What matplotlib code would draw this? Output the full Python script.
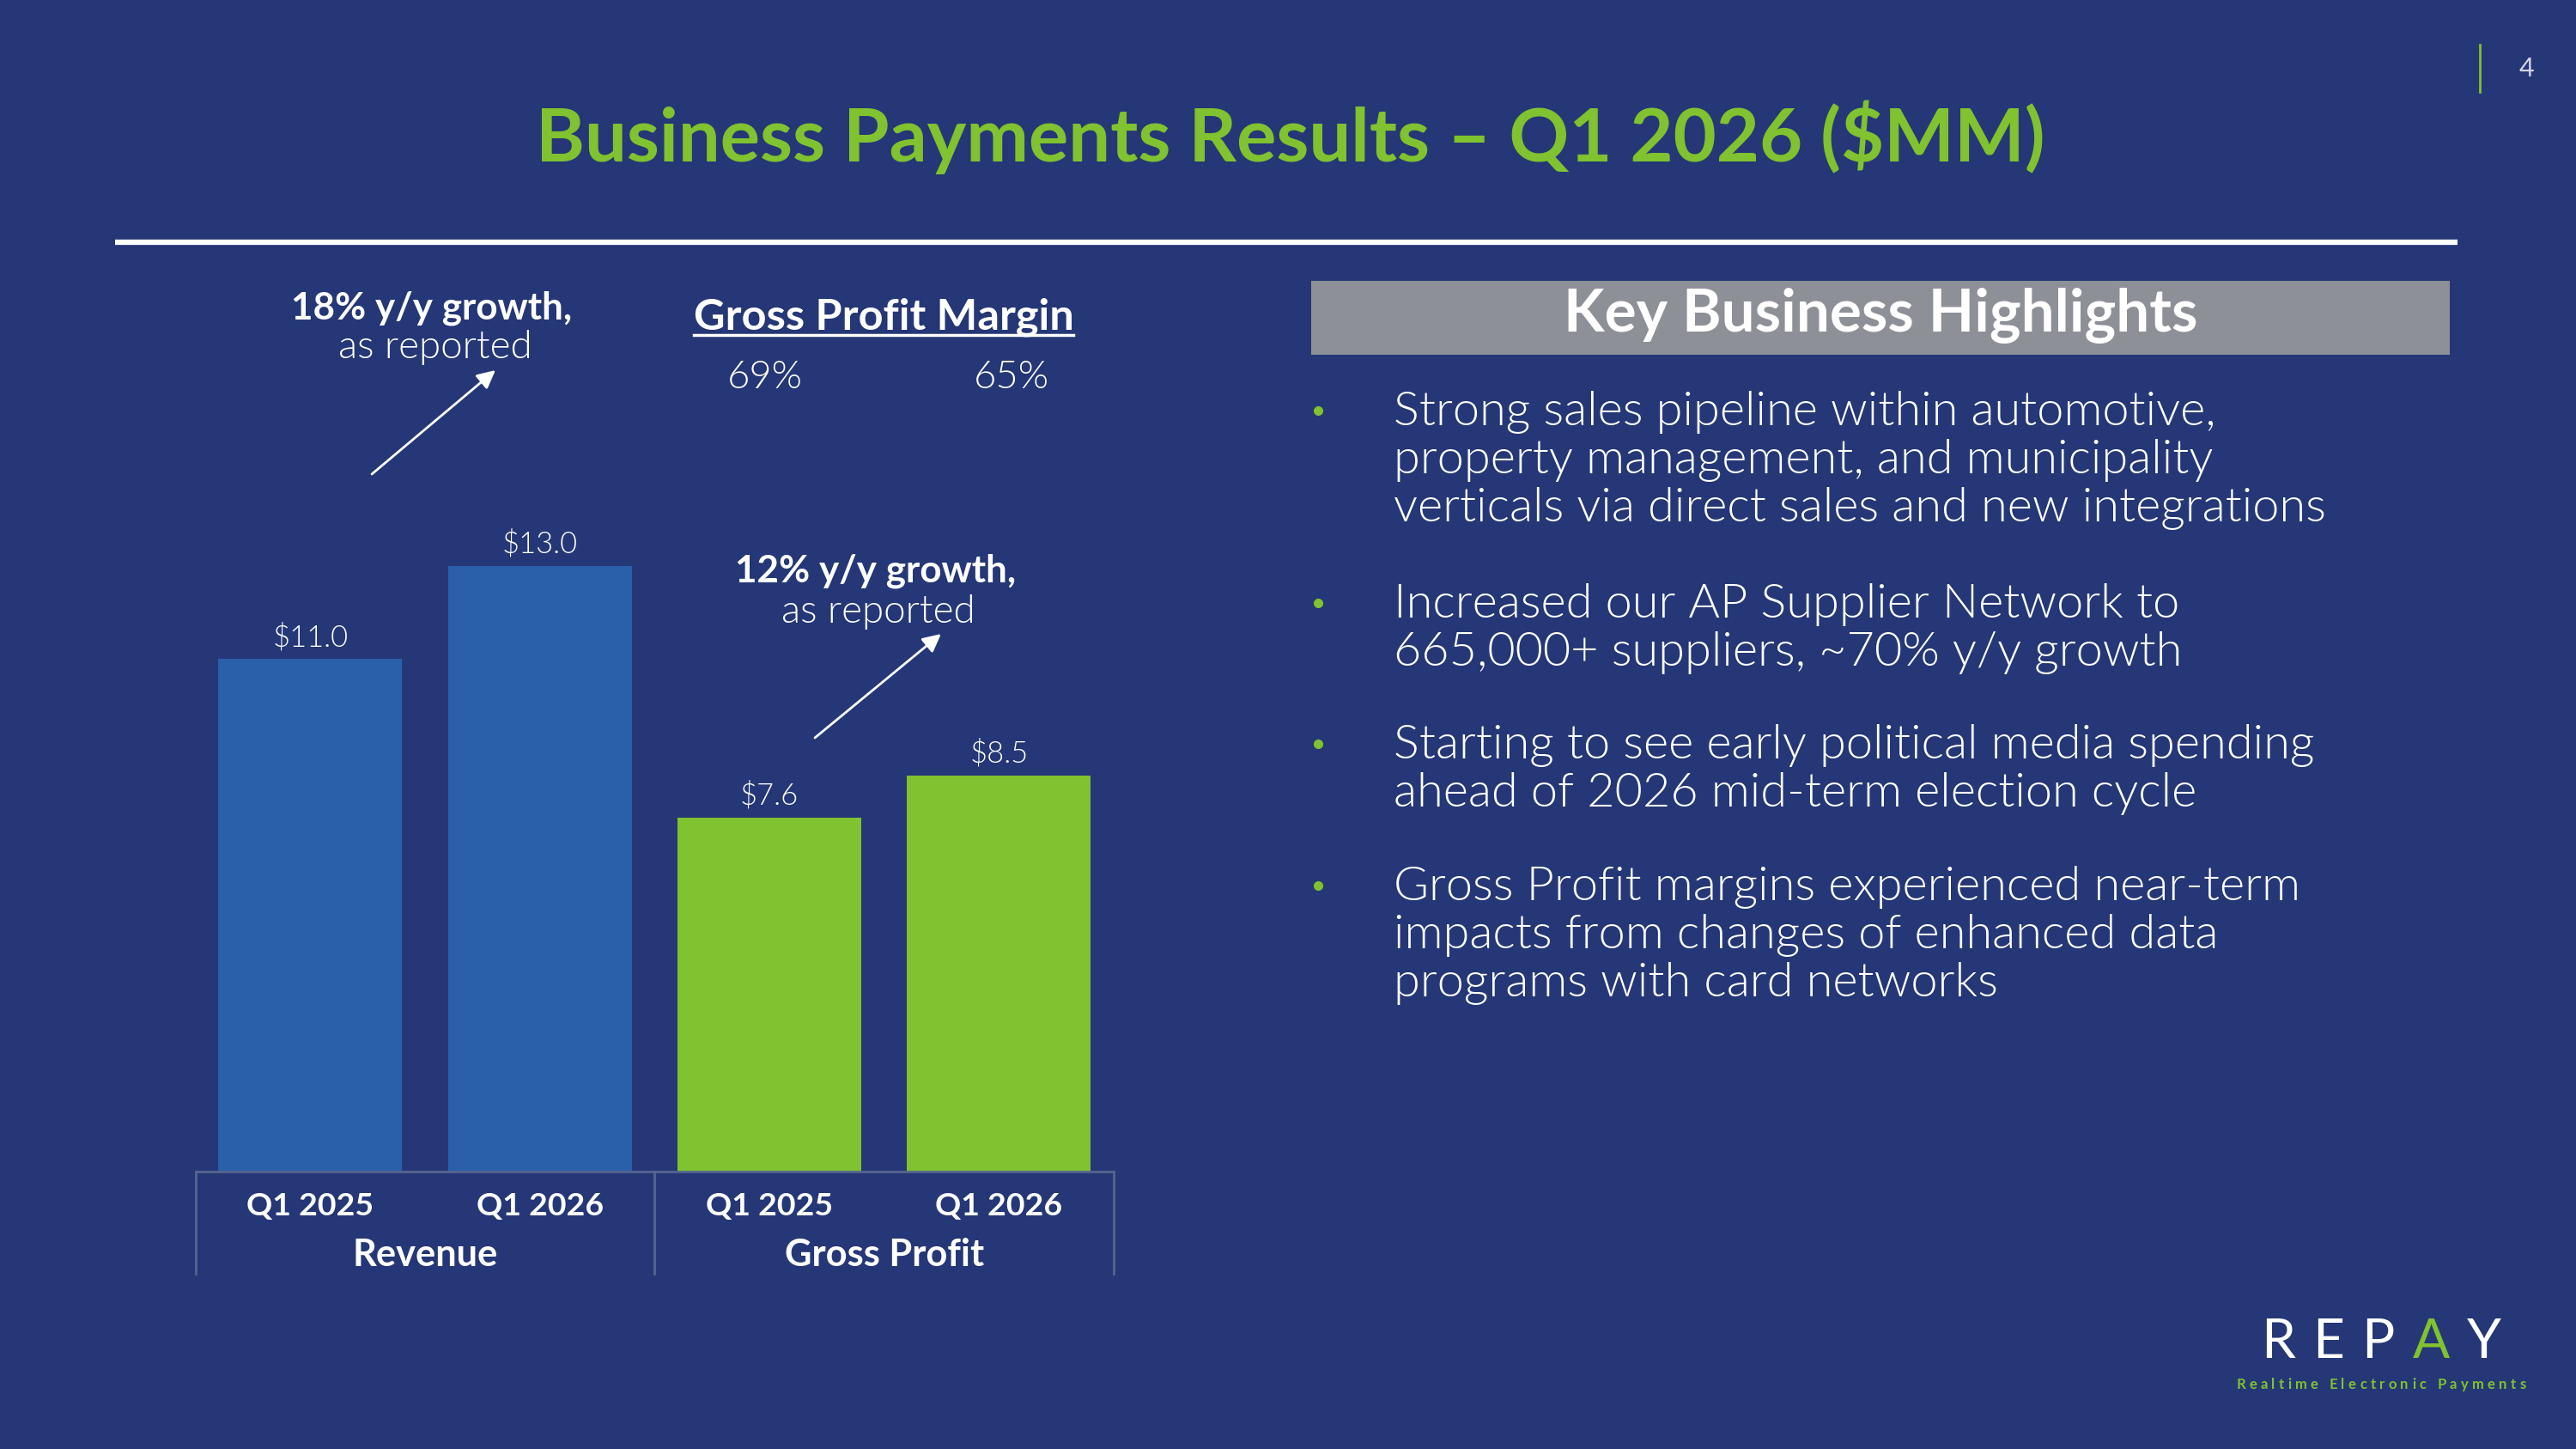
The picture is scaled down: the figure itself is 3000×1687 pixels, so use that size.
import matplotlib.pyplot as plt

# --- data -------------------------------------------------------------
categories = ["Q1 2025", "Q1 2026", "Q1 2025", "Q1 2026"]
groups = ["Revenue", "Gross Profit"]
values = [11.0, 13.0, 7.6, 8.5]
value_labels = ["$11.0", "$13.0", "$7.6", "$8.5"]
margins = ["69%", "65%"]
growth = ["18% y/y growth,", "12% y/y growth,"]
highlights = [
    ["Strong sales pipeline within automotive,",
     "property management, and municipality",
     "verticals via direct sales and new integrations"],
    ["Increased our AP Supplier Network to",
     "665,000+ suppliers, ~70% y/y growth"],
    ["Starting to see early political media spending",
     "ahead of 2026 mid-term election cycle"],
    ["Gross Profit margins experienced near-term",
     "impacts from changes of enhanced data",
     "programs with card networks"],
]

BG = "#253776"
BLUE = "#2A5FAA"
GREEN = "#80C22F"
GRAY = "#8E9098"
AXIS = "#56658F"
FONT = "Lato"
LIGHT = 300

fig = plt.figure(figsize=(30, 16.87), dpi=100)
fig.patch.set_facecolor(BG)

# overlay in pixel coordinates for the slide furniture
ov = fig.add_axes([0, 0, 1, 1])
ov.set_xlim(0, 3000)
ov.set_ylim(1687, 0)
ov.axis("off")
renderer = fig.canvas.get_renderer()


def fit(t, width):
    # scale the font so the text spans the width seen on the slide
    w = t.get_window_extent(renderer).width
    t.set_fontsize(t.get_fontsize() * width / w)
    return t


def txt(x, y, s, width=None, **kw):
    kw.setdefault("family", FONT)
    kw.setdefault("color", "white")
    kw.setdefault("ha", "center")
    kw.setdefault("va", "baseline")
    t = ov.text(x, y, s, **kw)
    if width:
        fit(t, width)
    return t


def spaced(cx, y, s, width, colors=None, **kw):
    # letter-spaced text, centred on cx and spread to the given width
    parts = []
    for ch in s:
        t = txt(0, y, ch, ha="left", **kw)
        parts.append((t, t.get_window_extent(renderer).width))
    natural = sum(w for _, w in parts)
    gap = (width - natural) / (len(s) - 1)
    xpos = cx - width / 2
    for i, (t, w) in enumerate(parts):
        t.set_x(xpos)
        if colors:
            t.set_color(colors[i])
        xpos += w + gap


# title + rule
txt(1503, 188, "Business Payments Results – Q1 2026 ($MM)", 1758,
    color=GREEN, fontsize=60, fontweight="bold")
ov.plot([134, 2862], [282, 282], color="white", lw=4.5, solid_capstyle="butt")

# page number
ov.plot([2888, 2888], [52, 107], color=GREEN, lw=2)
txt(2942, 89, "4", fontsize=22, fontweight="normal", color="#D5D8E6")

# growth call-outs
txt(503, 371, growth[0], 327, fontsize=26, fontweight="bold")
txt(507, 417, "as reported", 226, fontsize=26, fontweight=LIGHT)
txt(1020, 677, growth[1], 327, fontsize=26, fontweight="bold")
txt(1023, 725, "as reported", 226, fontsize=26, fontweight=LIGHT)
arrow = dict(arrowstyle="-|>", color="white", lw=2, mutation_scale=32,
             shrinkA=0, shrinkB=0)
ov.annotate("", xy=(577, 431), xytext=(433, 552), arrowprops=arrow)
ov.annotate("", xy=(1096, 738), xytext=(949, 859), arrowprops=arrow)

# gross profit margin block
gpm = txt(1029, 383, "Gross Profit Margin", 442, fontsize=28, fontweight="bold")
bb = gpm.get_window_extent(renderer)
ov.plot([bb.x0, bb.x1], [390, 390], color="white", lw=2.5)
txt(891, 452, margins[0], 88, fontsize=28, fontweight=LIGHT)
txt(1178, 452, margins[1], 88, fontsize=28, fontweight=LIGHT)

# key business highlights
ov.fill_between([1527, 2853], 327, 413, color=GRAY, lw=0)
txt(2190, 386, "Key Business Highlights", 737, fontsize=40, fontweight="bold")

probe = ov.text(0, 0, highlights[0][2], family=FONT, fontsize=30,
                fontweight=LIGHT)
fit(probe, 1084)
body_size = probe.get_fontsize()
probe.remove()

starts = [495, 719, 883, 1048]
for y0, lines in zip(starts, highlights):
    ov.plot(1535, y0 - 17, "o", color=GREEN, markersize=7)
    for i, line in enumerate(lines):
        txt(1623, y0 + i * 56, line, ha="left", fontsize=body_size,
            fontweight=LIGHT)

# logo
spaced(2773, 1581, "REPAY", 280, fontsize=46, fontweight="normal",
       colors=["white", "white", "white", GREEN, "white"])
spaced(2773, 1617, "Realtime Electronic Payments", 337, fontsize=12,
       fontweight="bold", color=GREEN)

# --- bar chart --------------------------------------------------------
ax = fig.add_axes([0.0759, 0.1915, 0.3564, 0.5144])
ax.set_facecolor("none")
x = list(range(len(values)))
colors = [BLUE, BLUE, GREEN, GREEN]
bars = ax.bar(x, values, width=0.8, color=colors)
ax.set_xlim(-0.5, 3.5)
ax.set_ylim(0, 16)
for s in ["top", "right", "left"]:
    ax.spines[s].set_visible(False)
ax.spines["bottom"].set_color(AXIS)
ax.spines["bottom"].set_linewidth(2)
ax.set_xticks([])
ax.set_yticks([])

for b, lab in zip(bars, value_labels):
    ax.annotate(lab, (b.get_x() + b.get_width() / 2, b.get_height()),
                xytext=(0, 10.8), textcoords="offset points",
                ha="center", va="baseline", color="white",
                family=FONT, fontsize=22, fontweight=LIGHT)
fit(ax.texts[1], 88)
for t in ax.texts:
    t.set_fontsize(ax.texts[1].get_fontsize())

tr = ax.get_xaxis_transform()
for xi, cat in zip(x, categories):
    t = ax.text(xi, -0.0588, cat, transform=tr, ha="center", va="baseline",
                color="white", family=FONT, fontsize=26, fontweight="bold")
    fit(t, 148)
for gx, g in zip([0.5, 2.5], groups):
    t = ax.text(gx, -0.1268, g, transform=tr, ha="center", va="baseline",
                color="white", family=FONT, fontsize=26, fontweight="bold")
    if g == "Revenue":
        fit(t, 169)
        rev_size = t.get_fontsize()
    else:
        t.set_fontsize(rev_size)
for sx in [-0.5, 1.5, 3.5]:
    ax.plot([sx, sx], [0, -0.137], transform=tr, color=AXIS, lw=2,
            clip_on=False)

fig.savefig("out.png", dpi=100, facecolor=BG)
